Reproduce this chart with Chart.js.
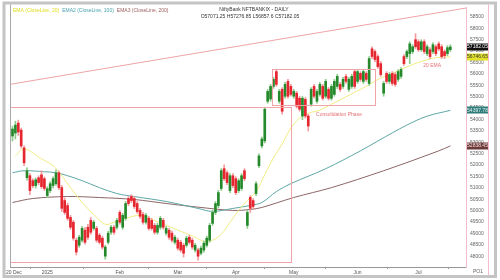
<!DOCTYPE html>
<html>
<head>
<meta charset="utf-8">
<script src="https://cdn.jsdelivr.net/npm/chart.js@4"></script>
<style>
  html, body { margin: 0; padding: 0; background: #fff; }
</style>
</head>
<body>
<canvas id="chart" width="500" height="280"></canvas>
<script>
// 日線 OHLC
const candleOpen = [53274,53405,53840,53535,52750,51444,51532,51314,51096,51440,51570,51400,50660,50880,51100,51180,51660,51010,50440,50220,
  49700,49490,48700,48480,48700,49140,49270,49570,49220,49220,48920,48790,48000,48610,49050,49270,49270,49920,49270,49660,
  50530,50620,50530,50310,50010,49830,49490,49660,49570,49350,49050,49270,49570,49010,49140,49010,48610,48700,48610,48480,
  48480,48830,48700,48270,48270,48130,48270,48480,48700,49440,49920,50220,50970,51840,51660,50880,51530,51400,50880,50970,
  51750,49350,50580,50440,50750,51970,52840,53060,54800,54900,55450,56100,54800,55320,55020,55670,55450,55020,55150,54930,
  54150,54880,54150,54670,55450,54800,55100,55450,55020,55320,54930,55100,55450,55540,55450,55890,55320,55450,56100,55670,
  56020,55670,56020,55580,57100,56980,56760,56450,55150,56020,55670,56020,55970,55760,55890,56760,56760,56890,56980,57500,
  57410,57060,57410,56890,57060,56980,57190,57320,57190,56980,56890,57060];
const candleHigh = [53709,53927,53970,53622,52838,51880,51620,51400,51440,51530,51750,51480,51050,51270,51480,51790,51750,51100,50550,50330,
  49790,49570,48790,48920,49310,49270,49400,49700,49570,49310,49000,48880,48480,49100,49350,49350,49660,50000,49880,50400,
  50620,50700,50620,50400,50100,49920,49880,49750,49660,49440,49440,49750,49660,49310,49220,49100,48920,48790,48700,48570,
  48880,48920,48790,48570,48350,48440,48660,48880,49440,50010,50400,50880,51840,52010,51750,51620,51620,51490,51400,51620,
  51840,50010,50660,50530,51270,52490,53230,54540,55320,55540,55850,56190,55320,55400,55630,55760,55540,55320,55230,55020,
  55020,54970,54230,55400,55540,55320,55630,55540,55760,55400,55540,55760,55980,55630,55850,55980,55850,55980,56190,56190,
  56100,56190,56100,56760,57190,57060,56850,56540,55670,56100,56060,56100,56060,56190,56280,56850,57060,57410,57280,57760,
  57500,57500,57500,57280,57150,57370,57280,57410,57280,57060,57240,57280];
const candleLow = [53056,53143,53300,52750,51967,51340,50700,51000,50990,51140,50970,50880,50570,50790,51000,51100,50920,49960,49830,49570,
  49180,48700,48050,48390,48610,48530,48740,48960,49140,48610,48530,48310,47870,48530,48960,48960,49180,49400,49180,49570,
  50220,50350,50090,49880,49660,49400,49400,49140,49140,48960,48960,49180,49180,48920,48740,48610,48530,48260,48180,47960,
  48400,48530,48310,48180,47830,48050,48180,48400,48610,49350,49830,50130,50880,51310,51140,50790,51010,50700,50790,50880,
  51310,49220,49920,50090,50660,51880,52750,52970,54710,54800,55360,55450,54710,54230,54930,54930,55020,54930,54500,54360,
  53990,54060,53490,54580,54930,54710,55020,54850,54930,54850,54850,55020,55360,55230,55360,55580,55230,55360,55360,55580,
  55670,55580,55670,55490,56670,56540,56240,55890,55020,55580,55580,55490,55450,55670,55800,56370,56670,56450,56890,57100,
  56980,56980,56890,56800,56670,56890,56800,57020,56670,56670,56800,56980];
const candleClose = [53579,53753,53450,52838,52098,51750,50879,51096,51350,51230,51050,50970,50960,51180,51400,51660,51010,50100,49920,49660,
  49270,48790,48180,48830,49220,48610,48830,49050,49490,48700,48610,48400,48400,49010,49270,49050,49570,49490,49790,50310,
  50310,50440,50180,49960,49750,49490,49790,49220,49220,49050,49350,49660,49270,49220,48830,48700,48830,48350,48270,48130,
  48790,48610,48400,48480,48000,48350,48570,48790,49350,49920,50310,50790,51750,51400,51230,51530,51100,50790,51310,51530,
  51400,49920,50100,50180,51180,52400,53140,54450,55230,55450,55760,55540,55230,54360,55540,55020,55100,55230,54580,54450,
  54930,54150,53710,55320,55020,55230,55540,54930,55670,54930,55450,55670,55890,55320,55760,55670,55760,55890,55450,56100,
  55760,56100,55760,56670,56760,56630,56320,55970,55580,55670,55970,55580,55540,56100,56190,56450,56980,57320,57190,57190,
  57060,57410,56980,57190,56760,57280,56890,57100,56760,56800,57150,57182];

// 均線 [序號, 數值]
const ema20 = [[1,52403],[4,52708],[10,52272],[14,51967],[17,51532],[20,51009],[24,50356],[28,49833],[32,49398],[35,49485],
  [39,49659],[44,49790],[48,49616],[53,49354],[58,49093],[63,48832],[66,48657],[69,48701],[72,48962],[75,49485],[78,50008],
  [81,50443],[84,50835],[87,51575],[90,52316],[93,52926],[96,53622],[99,54058],[102,54275],[106,54406],[110,54667],
  [114,54929],[118,55190],[122,55451],[126,55756],[130,55974],[134,56192],[138,56410],[142,56584],[146,56714],[151,56747]];
const ema100 = [[0,51662],[4,51750],[11,51706],[15,51662],[19,51532],[24,51314],[30,51009],[36,50748],[42,50617],[53,50400],
  [64,50095],[69,49964],[76,50095],[82,50225],[86,50356],[91,50835],[96,51183],[108,51837],[120,52621],[126,53056],
  [136,53753],[143,54145],[151,54398]];
const ema200 = [[0,50356],[7,50530],[19,50617],[30,50574],[42,50487],[53,50312],[65,50138],[76,50008],[82,50051],[86,50138],
  [97,50574],[110,51009],[128,51750],[147,52621],[151,52838]];

// 座標軸
const xTickPos = [0.5, 12, 37, 57, 77, 97, 119, 140];
const xTickText = ["20 Dec", "2025", "Feb", "Mar", "Apr", "May", "Jun", "Jul"];
const yTicks = [48000,48500,49000,49500,50000,50500,51000,51500,52000,52500,53000,53500,54000,54500,55000,55500,56000,56500,57000,57500,58000,58500];

// 右側數值標籤
const lastValues = [57182.05, 56746.65, 54397.78, 52838.45];
const lastColors = ["#111111", "#e2e22c", "#2c7c79", "#6d3a3a"];
const lastTextColors = ["#ffffff", "#333333", "#e6f2f2", "#f2e0e0"];

// 標註（資料座標）
const zoneBig = [-0.9, 96, 47740, 54540];
const zoneSmall = [89.5, 125, 54620, 56235];
const trendLine = [[-0.9, 55540], [156.4, 58890]];
const notes = [["Consolidation Phase", 112.6, 54230], ["20 EMA", 144.7, 56366]];

const legendItems = [["EMA (CloseLine, 20)", "#e0dc1a"], ["EMA2 (CloseLine, 100)", "#4aa3ad"], ["EMA3 (CloseLine, 200)", "#a05c5c"]];
const titleLines = ["NiftyBank NFTBANKIX - DAILY", "O57071.25 H57276.85 L56857.6 C57182.05"];

const upColor = "#25892b", downColor = "#e5262e";
const upWick = "#8ccc8c", downWick = "#f39a9e";
const FONT = "Liberation Sans";

const idx = candleOpen.map((_, i) => i);
const isUp = (i) => candleClose[i] >= candleOpen[i];

const overlay = {
  id: "overlay",
  beforeDraw(chart) {
    const c = chart.ctx;
    c.save();
    c.fillStyle = "#fff";
    c.fillRect(0, 0, chart.width, chart.height);
    c.restore();
  },
  afterDraw(chart) {
    const c = chart.ctx;
    const xs = chart.scales.x, ys = chart.scales.y, a = chart.chartArea;
    const px = (v) => xs.getPixelForValue(v), py = (v) => ys.getPixelForValue(v);
    c.save();
    c.font = `5px "${FONT}"`;

    // 標題（上方置中兩行）
    c.textAlign = "center";
    c.textBaseline = "alphabetic";
    c.fillStyle = "#333";
    c.fillText(titleLines[0], 254, 11);
    c.fillText(titleLines[1], 250, 17.5);

    // 圖例
    c.textAlign = "left";
    let lx = 13;
    legendItems.forEach(([t, col]) => {
      c.fillStyle = col;
      c.fillText(t, lx, 12);
      lx += c.measureText(t).width + 3;
    });

    // 標註框
    c.strokeStyle = "#f0a4a8";
    c.lineWidth = 1;
    [zoneBig, zoneSmall].forEach(([x0, x1, y0, y1]) => {
      const l = Math.round(px(x0)) + 0.5, r = Math.round(px(x1)) + 0.5;
      const t = Math.round(py(y1)) + 0.5, b = Math.round(py(y0)) + 0.5;
      c.strokeRect(l, t, r - l, b - t);
    });
    c.beginPath();
    c.moveTo(px(trendLine[0][0]), py(trendLine[0][1]));
    c.lineTo(px(trendLine[1][0]), py(trendLine[1][1]));
    c.stroke();
    c.textAlign = "center";
    c.textBaseline = "middle";
    c.fillStyle = "#e57275";
    notes.forEach(([t, x, y]) => c.fillText(t, px(x), py(y)));

    // 右側數值框
    lastValues.forEach((v, i) => {
      const y = py(v);
      c.fillStyle = lastColors[i];
      c.fillRect(a.right + 1, Math.round(y) - 3.5, 21, 7);
      c.fillStyle = lastTextColors[i];
      c.fillText(v.toFixed(2), a.right + 11.5, y);
    });
    c.fillStyle = "#666";
    c.fillText("PO1", a.right + 12, 272);

    // 外框
    c.strokeStyle = "#c4c4c4";
    c.lineWidth = 3;
    c.strokeRect(4, 3, 491.5, 273.5);
    c.lineWidth = 1;
    c.strokeStyle = "#a9a9a9";
    c.beginPath();
    c.moveTo(a.left + 0.5, 4.5);
    c.lineTo(a.left + 0.5, a.bottom);
    c.stroke();
    c.strokeStyle = "#f3bccb";
    c.beginPath();
    c.moveTo(488.5, 4.5);
    c.lineTo(488.5, 275);
    c.stroke();
    c.restore();
  },
};

const lineSet = (pts, color) => ({
  type: "line",
  data: pts.map(([x, y]) => ({ x, y })),
  borderColor: color,
  borderWidth: 1,
  pointRadius: 0,
  tension: 0.35,
  order: 3,
});

new Chart(document.getElementById("chart"), {
  type: "bar",
  data: {
    datasets: [
      lineSet(ema20, "#f1ed82"),
      lineSet(ema100, "#5ea8a6"),
      lineSet(ema200, "#8d6666"),
      {
        data: idx.map((i) => ({ x: i, y: [candleLow[i], candleHigh[i]] })),
        backgroundColor: idx.map((i) => (isUp(i) ? upWick : downWick)),
        barThickness: 1,
        grouped: false,
        order: 2,
      },
      {
        data: idx.map((i) => ({ x: i, y: [candleOpen[i], candleClose[i]] })),
        backgroundColor: idx.map((i) => (isUp(i) ? upColor : downColor)),
        barThickness: 2,
        minBarLength: 1,
        grouped: false,
        order: 1,
      },
    ],
  },
  options: {
    responsive: false,
    animation: false,
    layout: { padding: { left: 10, top: 5, right: 12, bottom: 3 } },
    plugins: { legend: { display: false }, tooltip: { enabled: false } },
    scales: {
      x: {
        type: "linear",
        min: -0.86,
        max: 156.4,
        offset: false,
        afterBuildTicks: (s) => { s.ticks = xTickPos.map((v) => ({ value: v })); },
        afterFit: (s) => { s.height = 10; },
        ticks: {
          autoSkip: false,
          maxRotation: 0,
          padding: 1,
          color: "#555",
          font: { size: 5, family: FONT },
          callback: (v) => xTickText[xTickPos.indexOf(v)],
        },
        grid: { display: true, drawOnChartArea: false, tickLength: 2, color: "#999" },
        border: { color: "#999" },
      },
      y: {
        position: "right",
        min: 47525,
        max: 58935,
        afterBuildTicks: (s) => { s.ticks = yTicks.map((v) => ({ value: v })); },
        afterFit: (s) => { s.width = 22; },
        ticks: {
          padding: 4,
          color: "#666",
          font: { size: 5, family: FONT },
          callback: (v) => String(v),
        },
        grid: { display: false, drawTicks: false, tickLength: 0 },
        border: { color: "#f3bccb" },
      },
    },
  },
  plugins: [overlay],
});
</script>
</body>
</html>
